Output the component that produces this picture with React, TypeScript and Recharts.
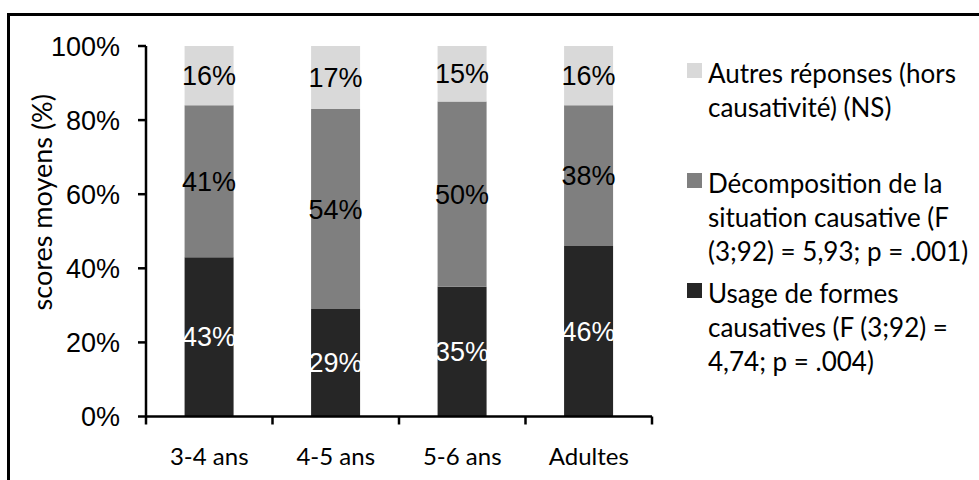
import React from "react";
import { BarChart, Bar, XAxis, YAxis, Legend, LabelList } from "recharts";

// categories + stacked series (bottom -> top)
const categories = ["3-4 ans", "4-5 ans", "5-6 ans", "Adultes"];
const usage = [43, 29, 35, 46];
const decomposition = [41, 54, 50, 38];
const autres = [16, 17, 15, 16];
const yTicks = [0, 20, 40, 60, 80, 100];

// legend reads top -> bottom, text wrapped as in the original
const legendOrder = ["autres", "decomposition", "usage"];
const legendLines: Record<string, string[]> = {
  autres: ["Autres réponses (hors", "causativité) (NS)"],
  decomposition: ["Décomposition de la", "situation causative (F", "(3;92) = 5,93; p = .001)"],
  usage: ["Usage de formes", "causatives (F (3;92) =", "4,74; p = .004)"],
};

const DARK = "#262626";
const MID = "#7f7f7f";
const LIGHT = "#d9d9d9";
const ARIAL = "'Liberation Sans', Arial, sans-serif";
const CALIBRI = "Lato, 'Open Sans', sans-serif";

const data = categories.map((cat, i) => ({
  cat,
  usage: usage[i],
  decomposition: decomposition[i],
  autres: autres[i],
}));

const pct = (v: any) => `${v}%`;

function CatTick(props: any) {
  const { x, y, payload, index, visibleTicksCount } = props;
  const half = payload?.offset ?? 63;
  const axisY = y - 8;
  const last = index === (visibleTicksCount ?? categories.length) - 1;
  return (
    <g>
      <line x1={x - half} x2={x - half} y1={axisY} y2={axisY + 8} stroke="#000" strokeWidth={2.5} />
      {last && (
        <line x1={x + half} x2={x + half} y1={axisY} y2={axisY + 8} stroke="#000" strokeWidth={2.5} />
      )}
      <text x={x} y={axisY + 48} textAnchor="middle" fill="#000" fontSize={24} fontFamily={CALIBRI}>
        {payload.value}
      </text>
    </g>
  );
}

function YTitle(props: any) {
  const { viewBox } = props;
  const cx = viewBox.x + 41;
  const cy = viewBox.y + viewBox.height / 2 - 29;
  return (
    <text
      x={cx}
      y={cy}
      transform={`rotate(-90 ${cx} ${cy})`}
      textAnchor="middle"
      dominantBaseline="central"
      fill="#000"
      fontSize={27}
      fontFamily={CALIBRI}
    >
      scores moyens (%)
    </text>
  );
}

function LegendBox(props: any) {
  const items = [...(props.payload || [])].sort(
    (a: any, b: any) => legendOrder.indexOf(a.dataKey) - legendOrder.indexOf(b.dataKey)
  );
  return (
    <div style={{ fontFamily: CALIBRI, fontSize: 26, color: "#000" }}>
      {items.map((it: any) => (
        <div key={it.dataKey} style={{ position: "relative", height: 110 }}>
          <div
            style={{
              position: "absolute",
              left: 0,
              top: 7,
              width: 15,
              height: 15,
              background: it.color,
            }}
          />
          <div style={{ position: "absolute", left: 21, top: 0, lineHeight: "34px", whiteSpace: "nowrap" }}>
            {(legendLines[it.dataKey] || [it.value]).map((l) => (
              <div key={l}>{l}</div>
            ))}
          </div>
        </div>
      ))}
    </div>
  );
}

export default function App() {
  return (
    <div
      style={{
        position: "absolute",
        left: 0,
        top: 0,
        width: 979,
        height: 480,
        background: "#fff",
        overflow: "hidden",
      }}
    >
      {/* outer frame, cut off at right and bottom like the original */}
      <div
        style={{
          position: "absolute",
          left: 7,
          top: 13,
          width: 1100,
          height: 600,
          border: "3px solid #000",
        }}
      />
      <div style={{ position: "absolute", left: 0, top: 0 }}>
        <BarChart
          width={979}
          height={480}
          data={data}
          margin={{ top: 46, right: 327, bottom: 0, left: 0 }}
          barCategoryGap="30.5%"
        >
          <YAxis
            type="number"
            domain={[0, 100]}
            ticks={yTicks}
            interval={0}
            tickFormatter={pct}
            width={146}
            axisLine={{ stroke: "#000", strokeWidth: 2.5 }}
            tickLine={{ stroke: "#000", strokeWidth: 2.5 }}
            tickSize={8}
            tickMargin={18}
            tick={{ fill: "#000", fontSize: 27, fontFamily: ARIAL }}
            label={<YTitle />}
          />
          <XAxis
            dataKey="cat"
            height={63.5}
            interval={0}
            axisLine={{ stroke: "#000", strokeWidth: 2.5 }}
            tickLine={false}
            tickSize={8}
            tickMargin={0}
            tick={<CatTick />}
          />
          <Legend
            layout="horizontal"
            align="center"
            verticalAlign="middle"
            content={<LegendBox />}
            wrapperStyle={{ left: 687, top: 56, width: 290 }}
          />
          <Bar dataKey="usage" name="Usage de formes causatives" stackId="s" fill={DARK} isAnimationActive={false}>
            <LabelList dataKey="usage" position="center" formatter={pct} fill="#fff" fontSize={27} fontFamily={ARIAL} />
          </Bar>
          <Bar
            dataKey="decomposition"
            name="Décomposition de la situation causative"
            stackId="s"
            fill={MID}
            isAnimationActive={false}
          >
            <LabelList dataKey="decomposition" position="center" formatter={pct} fill="#000" fontSize={27} fontFamily={ARIAL} />
          </Bar>
          <Bar dataKey="autres" name="Autres réponses" stackId="s" fill={LIGHT} isAnimationActive={false}>
            <LabelList dataKey="autres" position="center" formatter={pct} fill="#000" fontSize={27} fontFamily={ARIAL} />
          </Bar>
        </BarChart>
      </div>
    </div>
  );
}
